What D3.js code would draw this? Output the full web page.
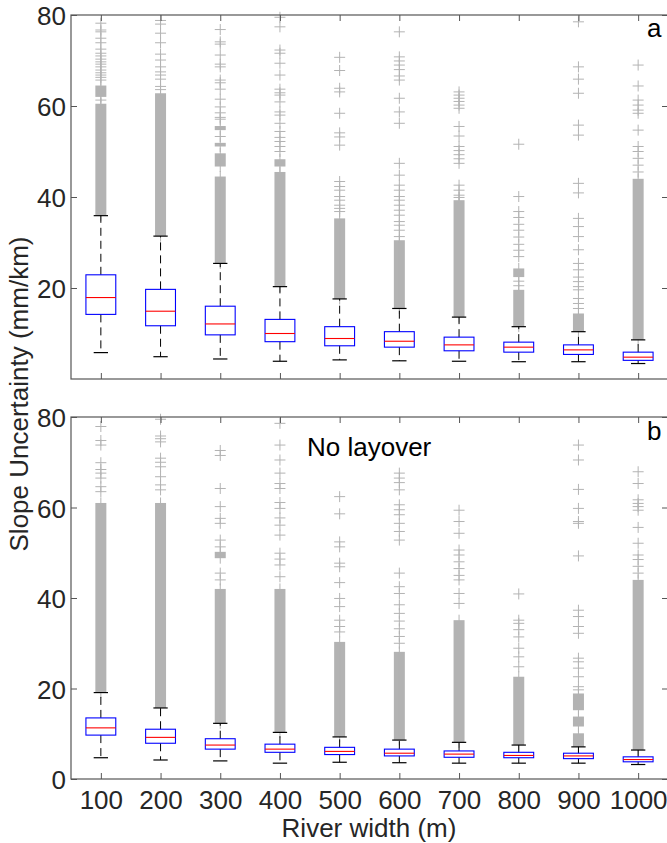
<!DOCTYPE html>
<html><head><meta charset="utf-8">
<script src="https://cdn.jsdelivr.net/npm/d3@7/dist/d3.min.js"></script>
<style>body{margin:0;background:#fff}svg{display:block}</style>
</head><body>
<svg id="chart" width="667" height="843"></svg>
<script>
const categories = [100,200,300,400,500,600,700,800,900,1000];
const yTicksA = [20,40,60,80];
const yTicksB = [0,20,40,60,80];

// Panel a
const aLow  = [5.8,4.9,4.4,3.9,4.2,4.0,3.9,3.8,3.8,3.4];
const aQ1   = [14.2,11.7,9.7,8.2,7.3,7.0,6.2,5.9,5.4,4.1];
const aMed  = [17.9,14.9,12.1,10.0,8.9,8.3,7.5,7.0,6.4,4.8];
const aQ3   = [22.9,19.7,16.0,13.1,11.5,10.4,9.2,8.1,7.5,5.9];
const aHigh = [35.9,31.4,25.4,20.3,17.6,15.5,13.6,11.5,10.4,8.6];
const aBands = [
  [[36,60.5],[62,64.5]],
  [[31.4,62.8]],
  [[25.4,44.5],[46.7,49.6],[51.1,51.9],[54.7,55.6]],
  [[20.3,45.5],[46.7,48.3]],
  [[17.6,35.3]],
  [[15.5,30.5]],
  [[13.6,39.3]],
  [[11.5,19.6],[22.4,24.3]],
  [[10.4,14.4]],
  [[8.6,44]]
];
const aOutliers = [
  [61.3,65.7,66.3,66.8,67.3,67.9,68.6,69.2,69.7,70.3,71.0,71.6,72.5,73.9,74.9,76.3,76.7,78.2],
  [63.6,64.3,65.9,66.8,67.5,68.6,70.1,71.4,73.9,76.0,78.0,78.8],
  [53.3,57.1,57.5,58.5,59.8,61.5,63.7,65.1,65.7,68.6,69.2,71.2,73.6,74.1,76.8],
  [50.0,51.1,52.2,53.1,54.4,56.2,58.0,58.7,60.9,62.4,62.9,63.7,66.8,69.4,71.6,72.3,77.4,79.5],
  [36.8,37.5,38.2,39.3,40.1,41.5,42.3,43.4,51.4,53.2,54.1,58.4,63.1,63.9,67.8,70.7],
  [31.3,32.7,33.8,34.6,36.0,37.1,38.2,39.3,40.1,41.5,42.6,44.8,47.4,56.2,58.7,61.7,65.7,66.6,68.0,69.0,69.9,70.8,76.3],
  [39.9,40.4,41.5,42.6,47.4,48.4,49.3,50.2,51.1,53.4,55.5,59.5,60.2,61.0,61.7,62.4,63.1],
  [20.5,21.5,26.9,28.3,29.6,31.2,32.7,34.0,35.5,36.8,40.1,51.6],
  [15.5,16.6,17.7,19.6,20.3,21.4,22.4,24.0,25.4,28.4,31.3,33.5,35.3,40.9,43.0,53.6,55.8,62.8,65.9,68.6,78.5],
  [45.5,47.0,48.5,50.0,51.1,54.7,58.4,59.1,60.2,61.3,64.4,69.0]
];

// Panel b (No layover)
const bLow  = [4.7,4.2,4.0,3.5,3.7,3.6,3.5,3.5,3.5,3.2];
const bQ1   = [9.7,7.9,6.6,5.9,5.4,5.1,4.8,4.7,4.5,3.8];
const bMed  = [11.3,9.2,7.5,6.6,6.1,5.7,5.5,5.2,5.1,4.3];
const bQ3   = [13.5,11.0,8.9,7.7,7.0,6.6,6.2,5.9,5.7,4.9];
const bHigh = [19.1,15.7,12.3,10.3,9.3,8.6,8.1,7.5,7.1,6.4];
const bBands = [
  [[19.1,61]],
  [[15.7,61]],
  [[12.3,42],[48.8,50.2]],
  [[10.3,42]],
  [[9.3,30.3]],
  [[8.6,28.1]],
  [[8.1,35.1]],
  [[7.5,22.6]],
  [[7.1,10.1],[11.6,13.8],[15.2,18.9]],
  [[6.4,44]]
];
const bOutliers = [
  [63.5,64.6,66.5,67.6,68.4,69.9,73.8,74.8,77.9],
  [63.9,65.0,66.8,69.0,70.0,70.9,74.5,75.2,75.8,79.5],
  [44.0,45.5,51.3,52.8,56.5,57.6,60.2,64.2,71.5,72.6],
  [44.7,47.3,48.6,49.9,53.9,56.1,57.7,59.8,61.1,64.2,65.3,67.6,70.5,73.8,78.6],
  [32.5,33.7,35.1,38.1,39.9,43.4,46.9,47.7,51.3,52.4,58.6,62.4],
  [30.0,31.5,33.2,34.9,36.6,38.5,41.0,42.5,45.5,52.8,54.7,56.5,58.4,59.5,60.6,63.9,65.5,66.5,67.6],
  [38.8,41.0,44.0,45.0,46.5,48.0,49.5,50.6,54.3,56.9,59.4],
  [24.8,27.0,28.9,31.4,33.0,34.4,35.1,40.9],
  [19.7,20.4,22.6,24.5,25.9,26.7,32.2,33.7,35.9,37.3,49.3,56.5,56.9,59.8,64.0,70.5,73.8],
  [45.5,47.0,48.5,49.5,52.1,55.6,59.4,60.2,60.9,61.7,65.3,67.9]
];

const svg = d3.select("#chart");
const FONT = "'Liberation Sans', Arial, Helvetica, sans-serif";
const TXT = "#262626", AX = "#555555", OUT = "#b3b3b3";
const left = 71, right = 668;
const x = d3.scaleLinear().domain([0.5, categories.length + 0.5]).range([left, right]);
const pxPerCat = x(2) - x(1);

function panel(top, bottom, yTicks, low, q1, med, q3, high, bands, outliers, letter, extra) {
  const y = d3.scaleLinear().domain([0, 80]).range([bottom, top]);
  const g = svg.append("g");
  const boxW = 0.5 * pxPerCat, capW = 0.24 * pxPerCat, mk = 5.5;

  // outliers
  categories.forEach((c, i) => {
    const cx = x(i + 1);
    bands[i].forEach(([lo, hi]) => {
      g.append("rect").attr("x", cx - mk).attr("width", 2 * mk)
        .attr("y", y(hi)).attr("height", y(lo) - y(hi)).attr("fill", OUT);
      g.append("line").attr("x1", cx).attr("x2", cx)
        .attr("y1", y(hi) - mk).attr("y2", y(lo) + mk)
        .attr("stroke", OUT).attr("stroke-width", 1);
    });
    outliers[i].forEach(v => {
      g.append("path")
        .attr("d", `M${cx - mk},${y(v)}H${cx + mk}M${cx},${y(v) - mk}V${y(v) + mk}`)
        .attr("stroke", OUT).attr("stroke-width", 1).attr("fill", "none");
    });
  });

  // boxes
  categories.forEach((c, i) => {
    const cx = x(i + 1);
    g.append("line").attr("x1", cx).attr("x2", cx).attr("y1", y(q3[i])).attr("y2", y(high[i]))
      .attr("stroke", "#000").attr("stroke-width", 1).attr("stroke-dasharray", "8,5");
    g.append("line").attr("x1", cx).attr("x2", cx).attr("y1", y(q1[i])).attr("y2", y(low[i]))
      .attr("stroke", "#000").attr("stroke-width", 1).attr("stroke-dasharray", "8,5");
    [high[i], low[i]].forEach(v => {
      g.append("line").attr("x1", cx - capW / 2).attr("x2", cx + capW / 2)
        .attr("y1", y(v)).attr("y2", y(v)).attr("stroke", "#000").attr("stroke-width", 1.2);
    });
    g.append("rect").attr("x", cx - boxW / 2).attr("width", boxW)
      .attr("y", y(q3[i])).attr("height", y(q1[i]) - y(q3[i]))
      .attr("fill", "none").attr("stroke", "#0000ff").attr("stroke-width", 1.1);
    g.append("line").attr("x1", cx - boxW / 2).attr("x2", cx + boxW / 2)
      .attr("y1", y(med[i])).attr("y2", y(med[i])).attr("stroke", "#ff0000").attr("stroke-width", 1.1);
  });

  // axes
  const tick = 6;
  const idx = categories.map((c, i) => i + 1);
  const styleAxis = sel => {
    sel.select(".domain").remove();
    sel.selectAll(".tick line").attr("stroke", AX);
    sel.selectAll(".tick text").attr("fill", TXT).style("font-family", FONT).style("font-size", "26px");
  };
  g.append("g").attr("transform", `translate(0,${bottom})`)
    .call(d3.axisBottom(x).tickValues(idx).tickSize(-tick).tickPadding(12)
      .tickFormat((d, i) => extra.showX ? categories[i] : ""))
    .call(styleAxis);
  g.append("g").attr("transform", `translate(0,${top})`)
    .call(d3.axisTop(x).tickValues(idx).tickSize(-tick).tickFormat(""))
    .call(styleAxis);
  const yl = g.append("g").attr("transform", `translate(${left},0)`)
    .call(d3.axisLeft(y).tickValues(yTicks).tickSize(-tick).tickPadding(5))
    .call(styleAxis);
  yl.selectAll(".tick text").attr("dy", "0.37em");
  g.append("g").attr("transform", `translate(${right},0)`)
    .call(d3.axisRight(y).tickValues(yTicks).tickSize(-tick).tickFormat(""))
    .call(styleAxis);

  g.append("rect").attr("x", left).attr("y", top).attr("width", right - left).attr("height", bottom - top)
    .attr("fill", "none").attr("stroke", AX).attr("stroke-width", 1.2);

  g.append("text").attr("x", 647).attr("y", extra.letterY).text(letter)
    .attr("fill", "#000").style("font-family", FONT).style("font-size", "26px");
  if (extra.note) {
    g.append("text").attr("x", 307).attr("y", 456).text(extra.note)
      .attr("fill", "#000").style("font-family", FONT).style("font-size", "26px");
  }
}

panel(15, 379, yTicksA, aLow, aQ1, aMed, aQ3, aHigh, aBands, aOutliers, "a", {showX: false, letterY: 37});
panel(417, 779, yTicksB, bLow, bQ1, bMed, bQ3, bHigh, bBands, bOutliers, "b", {showX: true, letterY: 440, note: "No layover"});

svg.append("text").attr("x", 369).attr("y", 837).attr("text-anchor", "middle")
  .text("River width (m)").attr("fill", TXT).style("font-family", FONT).style("font-size", "26px");
svg.append("text").attr("transform", "translate(28,394) rotate(-90)").attr("text-anchor", "middle")
  .text("Slope Uncertainty (mm/km)").attr("fill", TXT).style("font-family", FONT).style("font-size", "26px");
</script>
</body></html>
